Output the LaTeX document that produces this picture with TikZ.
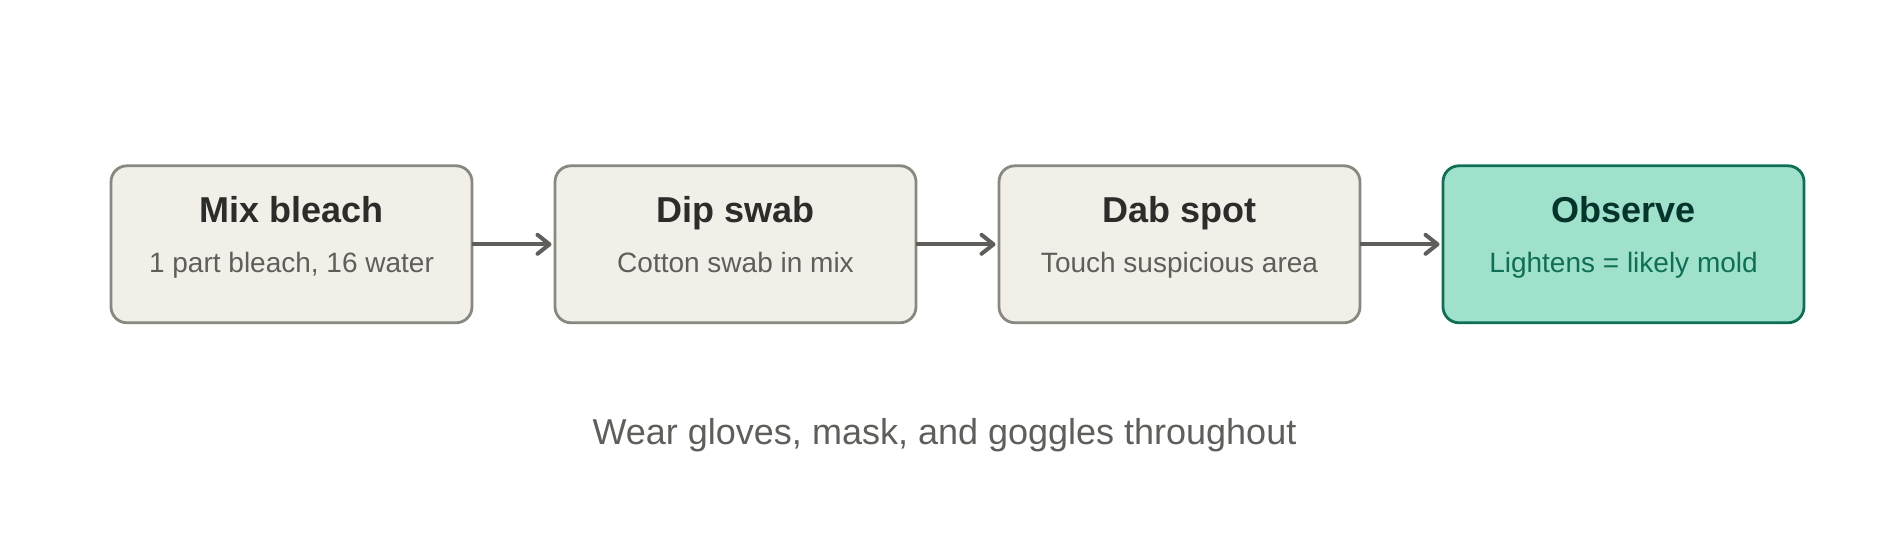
\documentclass[tikz,border=0pt]{standalone}
\usepackage{fontspec}
\setmainfont{Liberation Sans}
\usetikzlibrary{arrows.meta}
\usetikzlibrary{positioning}

\definecolor{boxfill}{HTML}{F1EFE8}
\definecolor{boxline}{HTML}{888780}
\definecolor{titleink}{HTML}{2C2C2A}
\definecolor{subink}{HTML}{5F5E5A}
\definecolor{donefill}{HTML}{9FE1CB}
\definecolor{doneline}{HTML}{0F6E56}
\definecolor{donetitle}{HTML}{04342C}

\begin{document}
\begin{tikzpicture}[x=1pt,y=-1pt]
      \tikzset{
        node distance=83pt,
        stepbox/.style={draw=boxline, fill=boxfill, line width=2.8pt,
          rounded corners=16pt, minimum width=361pt, minimum height=157pt,
          outer sep=0pt, inner sep=0pt},
        donebox/.style={stepbox, draw=doneline, fill=donefill},
        steptitle/.style={anchor=base, text=titleink,
          font=\fontsize{36}{43}\selectfont\bfseries},
        stepnote/.style={anchor=base, text=subink,
          font=\fontsize{28}{34}\selectfont},
        flow/.style={draw=subink, line width=4pt, shorten >=3.5pt,
          -{Straight Barb[length=12pt, width=19pt, line cap=round, line join=round]}},
      }
      \useasboundingbox (0,0) rectangle (1889,556);

      \node[stepbox] (mix) at (291.5,244.3) {};
      \node[stepbox, right=of mix] (dip) {};
      \node[stepbox, right=of dip] (dab) {};
      \node[donebox, right=of dab] (obs) {};

      \node[steptitle] (mixT) at ([yshift=21.5pt]mix.center) {Mix bleach};
      \node[stepnote] (mixN) at ([yshift=-28.5pt]mix.center) {1 part bleach, 16 water};
      \node[steptitle] (dipT) at ([yshift=21.5pt]dip.center) {Dip swab};
      \node[stepnote] (dipN) at ([yshift=-28.5pt]dip.center) {Cotton swab in mix};
      \node[steptitle] (dabT) at ([yshift=21.5pt]dab.center) {Dab spot};
      \node[stepnote] (dabN) at ([yshift=-28.5pt]dab.center) {Touch suspicious area};
      \node[steptitle, text=donetitle] (obsT) at ([yshift=21.5pt]obs.center) {Observe};
      \node[stepnote, text=doneline] (obsN) at ([yshift=-28.5pt]obs.center) {Lightens = likely mold};

      \node[anchor=base, text=subink, font=\fontsize{36}{43}\selectfont]
        (safety) at (944.5,444.3) {Wear gloves, mask, and goggles throughout};

      \draw[flow] (mix) -- (dip);
      \draw[flow] (dip) -- (dab);
      \draw[flow] (dab) -- (obs);
    \end{tikzpicture}
\end{document}
